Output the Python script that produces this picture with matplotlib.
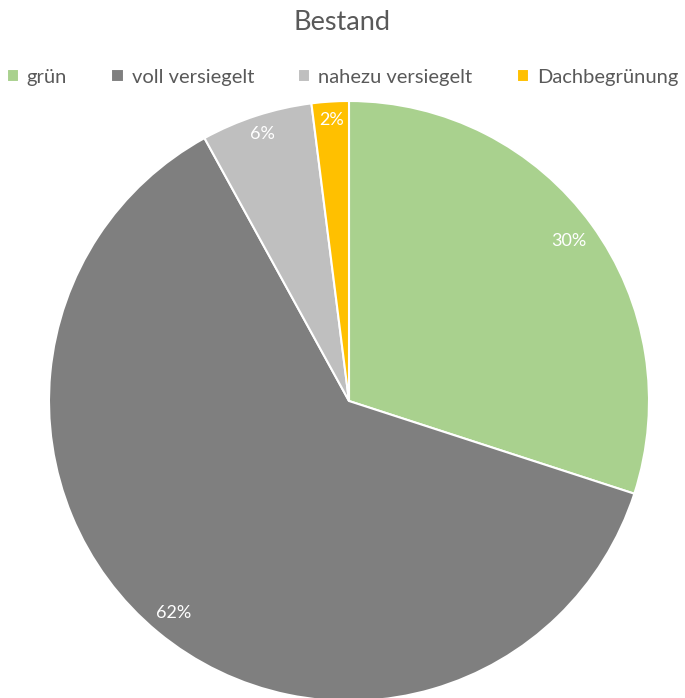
import numpy as np
import matplotlib
matplotlib.use("Agg")
import matplotlib.pyplot as plt

plt.rcParams['font.family'] = ['Lato', 'DejaVu Sans']

labels = ["grün", "voll versiegelt", "nahezu versiegelt", "Dachbegrünung"]
values = [30, 62, 6, 2]
colors = ["#A9D18E", "#7F7F7F", "#BFBFBF", "#FFC000"]
# how far out each percent label sits (fraction of radius)
label_r = [0.905, 0.915, 0.935, 0.94]

fig = plt.figure(figsize=(6.85, 6.98), dpi=100)
ax = fig.add_axes([49/685, -3/698, 600/685, 600/698])

wedges, _ = ax.pie(values, colors=colors, startangle=90, counterclock=False,
                   wedgeprops=dict(edgecolor="white", linewidth=1.5))

for w, v, r in zip(wedges, values, label_r):
    ang = np.deg2rad((w.theta1 + w.theta2) / 2)
    ax.text(r * np.cos(ang), r * np.sin(ang), "%d%%" % v, color="white",
            fontsize=13, ha="center", va="center")

ax.set_xlim(-1, 1)
ax.set_ylim(-1, 1)
ax.set_aspect("equal")
ax.axis("off")

fig.text(0.5, 1 - 22/698, "Bestand", ha="center", va="center",
         fontsize=19.5, color="#595959")

fig.legend(wedges, labels, loc="center", bbox_to_anchor=(0.5, 1 - 77/698),
           ncol=4, frameon=False, fontsize=14.5, handlelength=0.6, handleheight=0.6,
           handletextpad=0.4, columnspacing=2.2, labelcolor="#595959")

fig.savefig("out.png", dpi=100)
